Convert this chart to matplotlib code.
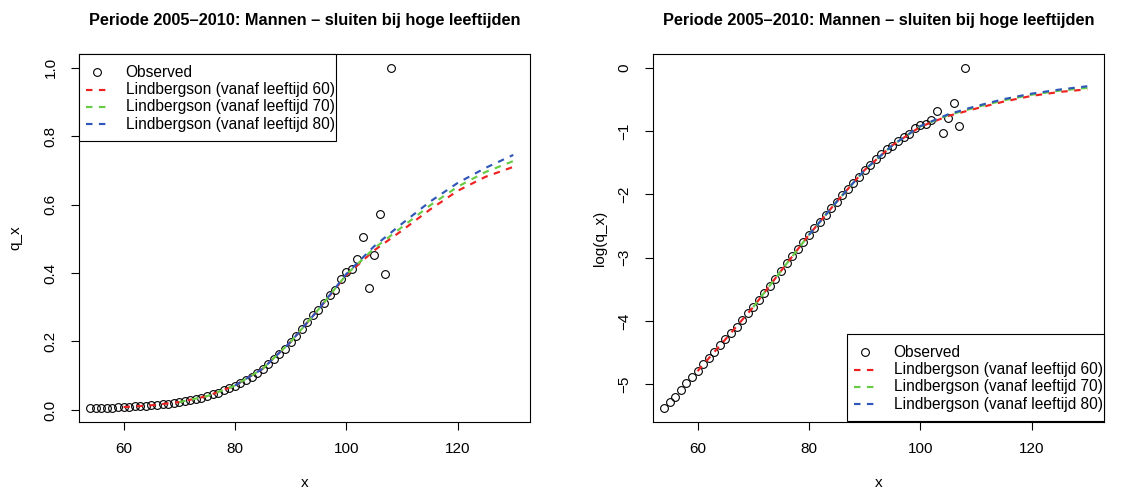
import numpy as np
import matplotlib
matplotlib.use("Agg")
import matplotlib.pyplot as plt
from matplotlib.patches import Rectangle
from matplotlib.lines import Line2D

plt.rcParams['font.family'] = ['Liberation Sans', 'DejaVu Sans']

# ---------------- data ----------------
title = "Periode 2005\u20132010: Mannen \u2013 sluiten bij hoge leeftijden"
legend_labels = ["Observed",
                 "Lindbergson (vanaf leeftijd 60)",
                 "Lindbergson (vanaf leeftijd 70)",
                 "Lindbergson (vanaf leeftijd 80)"]

ages_obs = list(range(54, 109))
qx_obs = [0.00461, 0.00509, 0.00552, 0.00616, 0.00687, 0.00752, 0.00831, 0.00928,
          0.01015, 0.01122, 0.01253, 0.01371, 0.01515, 0.01674, 0.01850, 0.02065,
          0.02282, 0.02547, 0.02844, 0.03206, 0.03579, 0.04036, 0.04550, 0.05079,
          0.05727, 0.06393, 0.07065, 0.07887, 0.08804, 0.09730, 0.1086, 0.1200,
          0.1340, 0.1481, 0.1620, 0.1773, 0.1979, 0.2165, 0.2369, 0.2567,
          0.2780, 0.2923, 0.3135, 0.3362, 0.3499, 0.3829, 0.4025, 0.4107,
          0.4404, 0.5066, 0.3570, 0.4540, 0.5710, 0.3985, 1.0000]

ages_l60 = [60, 65, 70, 75, 80, 85, 90, 95, 100, 105, 110, 115, 120, 125, 130]
qx_l60 = [0.0083, 0.0137, 0.0228, 0.0404, 0.0712, 0.1205, 0.1985, 0.2935,
          0.393, 0.466, 0.524, 0.585, 0.640, 0.681, 0.710]

ages_l70 = [70, 75, 80, 85, 90, 95, 100, 105, 110, 115, 120, 125, 130]
qx_l70 = [0.0228, 0.0404, 0.0712, 0.1205, 0.1985, 0.2935, 0.395, 0.472,
          0.534, 0.597, 0.652, 0.695, 0.727]

ages_l80 = [80, 85, 90, 95, 100, 105, 110, 115, 120, 125, 130]
qx_l80 = [0.0712, 0.1205, 0.1985, 0.2935, 0.397, 0.478, 0.544, 0.608,
          0.663, 0.707, 0.745]

x_ticks = [60, 80, 100, 120]
left_y_ticks = [0.0, 0.2, 0.4, 0.6, 0.8, 1.0]
left_y_ticklabels = ["0.0", "0.2", "0.4", "0.6", "0.8", "1.0"]
right_y_ticks = [-5, -4, -3, -2, -1, 0]
right_y_ticklabels = ["\u22125", "\u22124", "\u22123", "\u22122", "\u22121", "0"]

col_red = "#EE2020"
col_green = "#66CC44"
col_blue = "#2F56B8"
line_cols = [col_red, col_green, col_blue]

# ---------------- layout (pixels) ----------------
W, H = 1126, 495
AX_W, AX_TOP, AX_BOT = 451, 54, 422
AX_H = AX_BOT - AX_TOP
FS = 11.0
LFS = 11.2
DASH = (0, (3.0, 3.0))
LW = 1.55
MS = 5.6

fig = plt.figure(figsize=(W / 100, H / 100), dpi=100)


def make_ax(left_px):
    return fig.add_axes([left_px / W, 1 - AX_BOT / H, AX_W / W, AX_H / H])


def style(ax, yticks, yticklabels, ylabel, ylabel_px):
    ax.set_xlim(52, 133)
    ax.set_xticks(x_ticks)
    ax.set_xticklabels([str(t) for t in x_ticks])
    ax.set_yticks(yticks)
    ax.set_yticklabels(yticklabels, rotation=90, va='center')
    ax.tick_params(direction='out', length=5.5, width=0.8, labelsize=FS,
                   colors='black')
    ax.tick_params(axis='x', pad=9)
    ax.tick_params(axis='y', pad=10)
    for s in ax.spines.values():
        s.set_linewidth(0.8)
        s.set_color('black')
    ax.text(0.5, -(483 - AX_BOT) / AX_H, "x", transform=ax.transAxes,
            ha='center', va='center', fontsize=FS)
    ax.text(ylabel_px / AX_W, 0.5, ylabel, transform=ax.transAxes,
            ha='center', va='center', rotation=90, fontsize=FS)
    ax.text(0.5, 1 + 34 / AX_H, title, transform=ax.transAxes,
            ha='center', va='center', fontsize=11.8, fontweight='bold')


def legend(ax, box_left, box_top):
    # box_left, box_top: pixel offsets relative to axes left / axes top
    bw, bh = 257, 87
    fx = lambda p: p / AX_W
    fy = lambda p: 1 - p / AX_H
    ax.add_patch(Rectangle((fx(box_left), fy(box_top + bh)), fx(bw), bh / AX_H,
                           transform=ax.transAxes, facecolor='white',
                           edgecolor='black', lw=0.8, zorder=5, clip_on=False))
    for i, lab in enumerate(legend_labels):
        yy = fy(box_top + 18.3 + 17.3 * i)
        if i == 0:
            ax.add_line(Line2D([fx(box_left + 18)], [yy], marker='o', ms=MS,
                               mfc='none', mec='black', mew=0.8, ls='none',
                               transform=ax.transAxes, zorder=6, clip_on=False))
        else:
            ax.add_line(Line2D([fx(box_left + 6.7), fx(box_left + 26.2)], [yy, yy],
                               color=line_cols[i - 1], lw=LW, ls=DASH,
                               transform=ax.transAxes, zorder=6, clip_on=False))
        ax.text(fx(box_left + 46.4), yy, lab, transform=ax.transAxes,
                ha='left', va='center', fontsize=LFS, zorder=6)


series = [(ages_l60, qx_l60), (ages_l70, qx_l70), (ages_l80, qx_l80)]

# ---------------- left panel ----------------
ax1 = make_ax(79)
ax1.plot(ages_obs, qx_obs, ls='none', marker='o', ms=MS, mfc='none',
         mec='black', mew=0.8)
for (a, q), c in zip(series, line_cols):
    ax1.plot(a, q, color=c, lw=LW, ls=DASH)
ax1.set_ylim(-0.0352, 1.0398)
style(ax1, left_y_ticks, left_y_ticklabels, "q_x", 15 - 79)
legend(ax1, 0.3, 0)

# ---------------- right panel ----------------
ax2 = make_ax(653)
ax2.plot(ages_obs, np.log(qx_obs), ls='none', marker='o', ms=MS, mfc='none',
         mec='black', mew=0.8)
for (a, q), c in zip(series, line_cols):
    ax2.plot(a, np.log(q), color=c, lw=LW, ls=DASH)
ax2.set_ylim(-5.595, 0.215)
style(ax2, right_y_ticks, right_y_ticklabels, "log(q_x)", 600 - 653)
legend(ax2, 847.3 - 653, 334 - AX_TOP)

fig.savefig("out.png", dpi=100)
